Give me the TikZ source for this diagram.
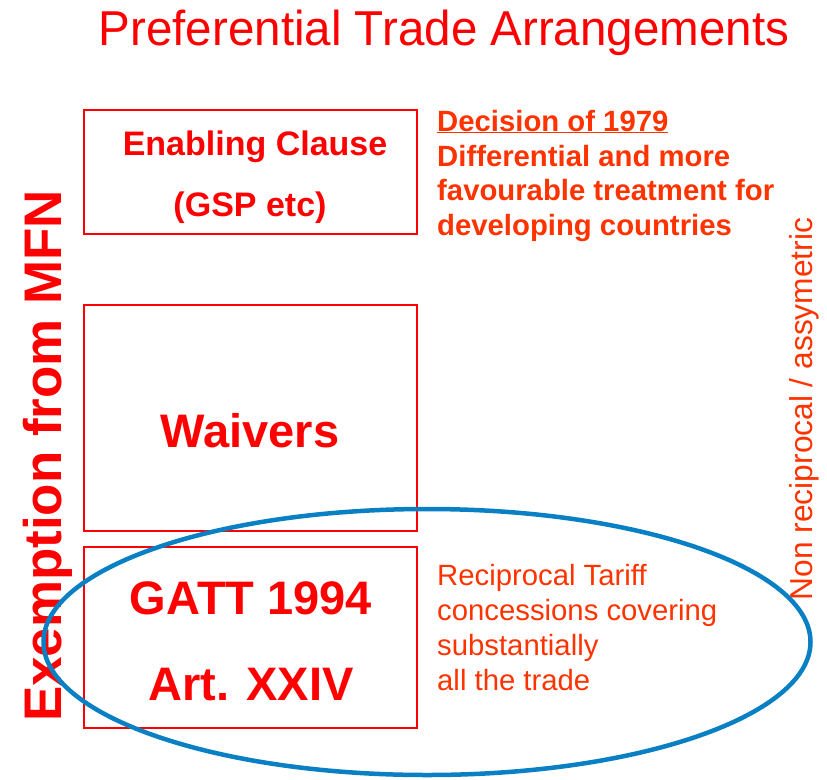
\documentclass[tikz,border=0pt]{standalone}
\usepackage{fontspec}
\setmainfont{Liberation Sans}
\definecolor{pred}{HTML}{FF0000}
\definecolor{porange}{HTML}{FF3300}
\definecolor{pblue}{HTML}{0A80C4}
\begin{document}
\begin{tikzpicture}[x=1pt,y=-1pt,
  box/.style={draw=pred,line width=1.6pt},
  boxtext/.style={text=pred,font=\bfseries\fontsize{34}{34}\selectfont,inner sep=0pt,anchor=base},
  bigtext/.style={text=pred,font=\bfseries\fontsize{47}{47}\selectfont,inner sep=0pt,anchor=base},
  dectext/.style={text=porange,font=\bfseries\fontsize{29.3}{29.3}\selectfont,inner sep=0pt,anchor=base west},
  rectext/.style={text=porange,font=\fontsize{29.3}{29.3}\selectfont,inner sep=0pt,anchor=base west}]
\useasboundingbox (0,0) rectangle (827,779);
% title
\node[text=pred,font=\fontsize{49}{49}\selectfont,inner sep=0pt,anchor=base,xscale=0.97] (title) at (444,45) {Preferential Trade Arrangements};
% boxes
\draw[box] (84,110) rectangle (417,234);
\draw[box] (84,305) rectangle (417,531);
\draw[box] (84,547) rectangle (417,728);
\node[boxtext] (ec1) at (255,155) {Enabling Clause};
\node[boxtext] (ec2) at (250,216) {(GSP etc)};
\node[bigtext] (wv) at (250,447) {Waivers};
\node[bigtext] (gatt) at (251,614) {GATT 1994};
\node[bigtext] (art) at (251,700) {Art. XXIV};
% decision text
\node[dectext] (d1) at (437,131) {\underline{Decision of 1979}};
\node[dectext] (d2) at (437,166) {Differential and more};
\node[dectext] (d3) at (437,200.5) {favourable treatment for};
\node[dectext] (d4) at (437,235) {developing countries};
% reciprocal text
\node[rectext] (r1) at (437,585) {Reciprocal Tariff};
\node[rectext] (r2) at (437,620) {concessions covering};
\node[rectext] (r3) at (437,655) {substantially};
\node[rectext] (r4) at (437,690) {all the trade};
% side texts
\node[text=pred,font=\bfseries\fontsize{52.9}{52.9}\selectfont,inner sep=0pt,anchor=base,rotate=90] (ex) at (61,456) {Exemption from MFN};
\node[text=porange,font=\fontsize{31.7}{31.7}\selectfont,inner sep=0pt,anchor=base,rotate=90] (nr) at (812,409) {Non reciprocal / assymetric};
% ellipse
\draw[pblue,line width=4.5pt] (427,642) ellipse [x radius=383.5, y radius=133];
\end{tikzpicture}
\end{document}
